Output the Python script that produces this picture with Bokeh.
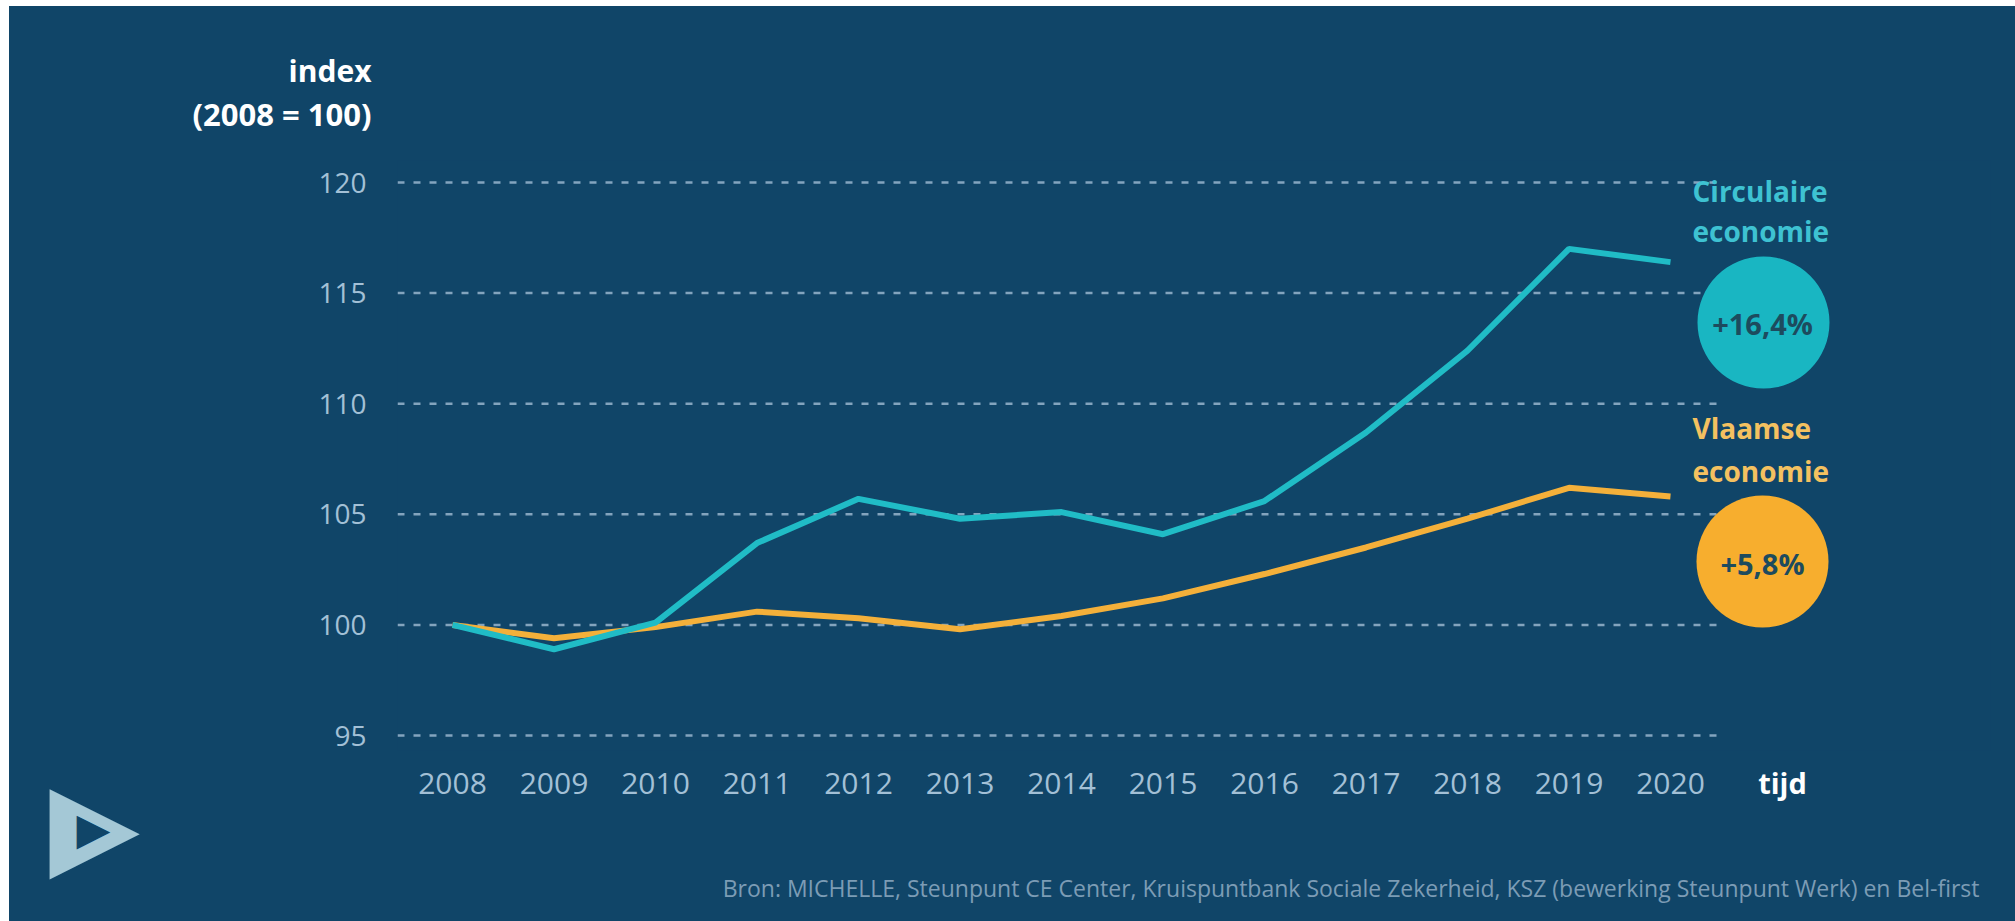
from bokeh.plotting import figure
from bokeh.models import Label, FixedTicker
from bokeh.embed import file_html
from bokeh.resources import INLINE

# ---------------- data ----------------
years = [2008, 2009, 2010, 2011, 2012, 2013, 2014, 2015, 2016, 2017, 2018, 2019, 2020]
circulaire = [100.0, 98.9, 100.1, 103.7, 105.7, 104.8, 105.1, 104.1, 105.6, 108.7, 112.4, 117.0, 116.4]
vlaamse = [100.0, 99.4, 99.9, 100.6, 100.3, 99.8, 100.4, 101.2, 102.3, 103.5, 104.8, 106.2, 105.8]
y_ticks = [95, 100, 105, 110, 115, 120]
series_names = ["Circulaire\neconomie", "Vlaamse\neconomie"]
source_text = ("Bron: MICHELLE, Steunpunt CE Center, Kruispuntbank Sociale Zekerheid, "
               "KSZ (bewerking Steunpunt Werk) en Bel-first")

# ---------------- layout geometry ----------------
BG = "#104568"
W, H = 2015, 921
FL, FR, FT, FB = 397, 1990, 160, 750
X0, X1 = 2007.458, 2023.153
Y0, Y1 = 94.322, 120.995


def rx(px):
    return X0 + (px - FL) * (X1 - X0) / (FR - FL)


def ry(py):
    return Y1 - (py - FT) * (Y1 - Y0) / (FB - FT)


p = figure(width=W, height=H, x_range=(X0, X1), y_range=(Y0, Y1),
           output_backend="svg", toolbar_location=None,
           min_border_left=FL, min_border_right=W - FR,
           min_border_top=FT, min_border_bottom=H - FB,
           background_fill_color=BG, border_fill_color=None,
           outline_line_color=None)
# navy page with the thin white strips (left/top) seen in the reference
p.styles = {"background-color": BG, "box-shadow": "inset 9px 6px 0px 0px white"}
p.xgrid.visible = False
p.ygrid.visible = False

TICK_COL = "#a3c0d6"
p.yaxis.ticker = FixedTicker(ticks=y_ticks)
p.xaxis.ticker = FixedTicker(ticks=years)
for ax in (p.xaxis, p.yaxis):
    ax.axis_line_color = None
    ax.major_tick_line_color = None
    ax.minor_tick_line_color = None
    ax.major_label_text_font = "Open Sans"
    ax.major_label_text_color = TICK_COL
p.yaxis.major_label_text_font_size = "28px"
p.yaxis.major_label_standoff = 25
p.xaxis.major_label_text_font_size = "30px"
p.xaxis.major_label_standoff = 16

# dashed gridlines
p.segment(x0=X0, y0=y_ticks, x1=rx(1722), y1=y_ticks,
          line_color="#8aaac3", line_width=2.5, line_dash="7 9", line_alpha=0.95)

TEAL = "#20bcc6"
ORANGE = "#f4b03a"
p.line(years, vlaamse, line_color=ORANGE, line_width=6)
p.line(years, circulaire, line_color=TEAL, line_width=6)

# bubbles
p.scatter(x=[rx(1763)], y=[ry(322)], size=132, fill_color="#19b6c2", line_color=None)
p.scatter(x=[rx(1762)], y=[ry(561)], size=132, fill_color="#f7ae2e", line_color=None)


def pct(v):
    return ("+%.1f%%" % (v - 100)).replace(".", ",")


def lab(text, px, py, size, color, align="left", bold=True, font="Open Sans"):
    return Label(x=rx(px), y=ry(py), text=text, text_align=align,
                 text_baseline="middle", text_font=font,
                 text_font_style="bold" if bold else "normal",
                 text_font_size=size, text_color=color)


BUB_TXT = "#1d4b5e"
p.add_layout(lab(pct(circulaire[-1]), 1762, 323, "29px", BUB_TXT, "center"))
p.add_layout(lab(pct(vlaamse[-1]), 1762, 563, "29px", BUB_TXT, "center"))

# series names
c1, c2 = series_names[0].split("\n")
v1, v2 = series_names[1].split("\n")
p.add_layout(lab(c1, 1692, 190, "28px", "#3ec2d2"))
p.add_layout(lab(c2, 1692, 230, "28px", "#3ec2d2"))
p.add_layout(lab(v1, 1692, 427, "28px", "#f4c160"))
p.add_layout(lab(v2, 1692, 470, "28px", "#f4c160"))

# texts outside the plotting frame go in the side panels (not clipped)
p.add_layout(lab("(2008 = 100)", 371, 113, "31px", "white", "right"), "above")
p.add_layout(lab("index", 371, 70, "30px", "white", "right"), "above")
p.add_layout(lab("tijd", 1782, 782, "29px", "white", "center"), "below")
p.add_layout(lab(source_text, 1979, 887, "23px", "#7c9cb5", "right", bold=False), "below")

# logo (outline triangle)
p.add_layout(lab("\u25B6", 94, 823, "118px", "#a4c8d6", "center", bold=False,
                 font="DejaVu Sans"), "left")
p.add_layout(lab("\u25B6", 93, 828, "44px", BG, "center", bold=False,
                 font="DejaVu Sans"), "left")

open("out.html", "w").write(file_html(p, INLINE))
